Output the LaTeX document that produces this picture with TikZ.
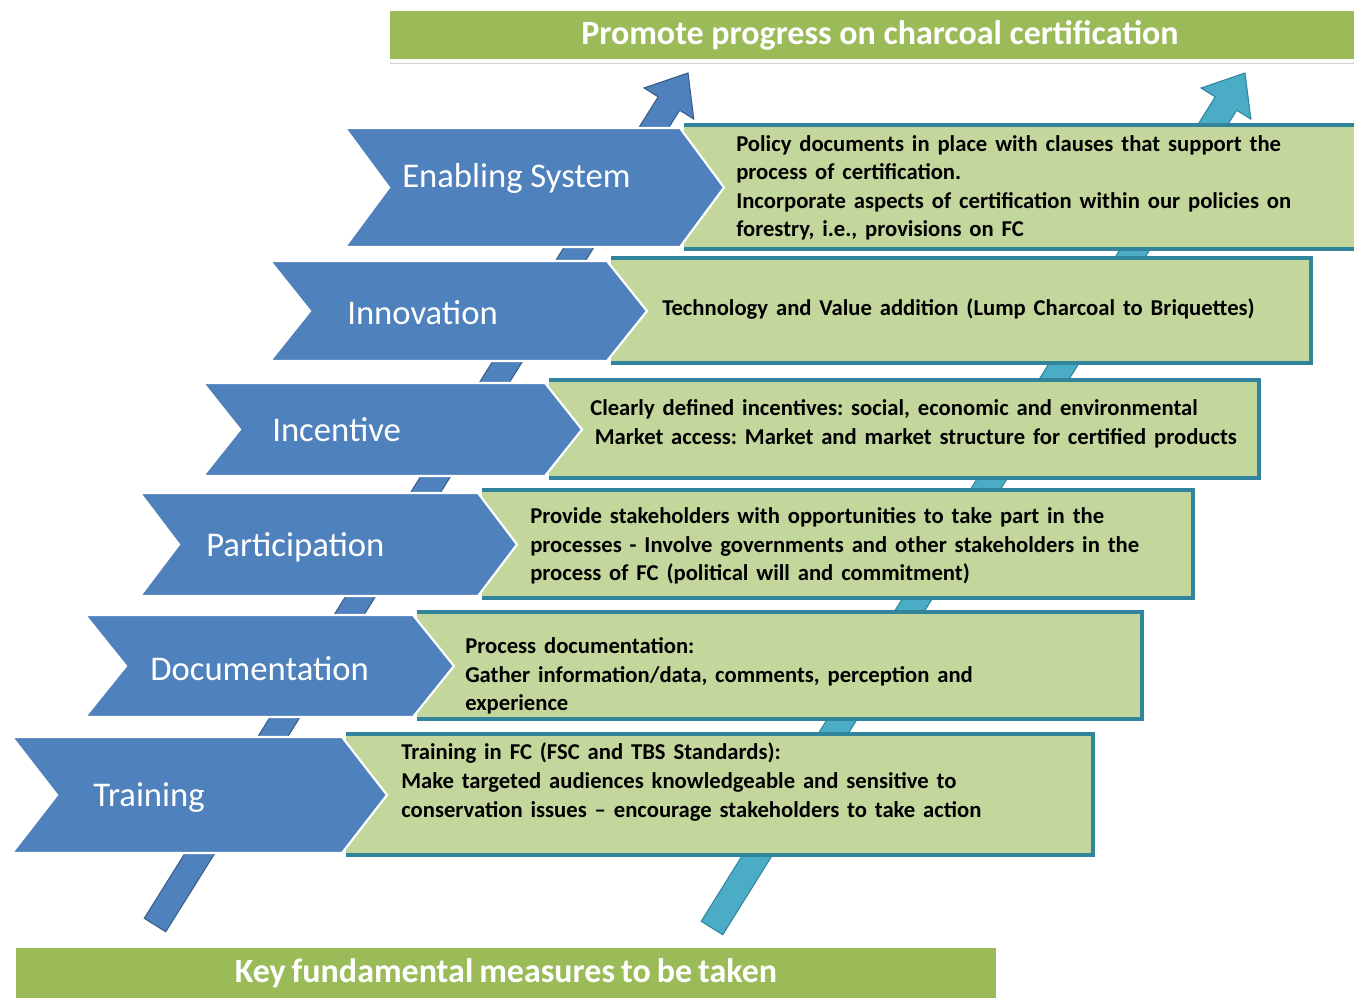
\documentclass[tikz,border=0pt]{standalone}
\usepackage{fontspec}
\setmainfont{Carlito}
\usetikzlibrary{calc,shadows}
\definecolor{chevblue}{HTML}{4F81BD}
\definecolor{chevblueD}{HTML}{385D8A}
\definecolor{boxgreen}{HTML}{C3D69B}
\definecolor{boxteal}{HTML}{31849B}
\definecolor{arrteal}{HTML}{4BACC6}
\definecolor{arrtealD}{HTML}{31859C}
\definecolor{bannergreen}{HTML}{9BBB59}

\newcommand{\boxsetup}{\fontsize{17}{21.4}\selectfont\bfseries\frenchspacing\spaceskip 5.9pt plus 1pt minus 1pt\relax}
\newcommand{\topsetup}{\fontsize{25.5}{30}\selectfont\bfseries}
\newcommand{\botsetup}{\fontsize{25.5}{30}\selectfont\bfseries\spaceskip 4.5pt\relax}

\newcommand{\stagerow}[7]{% #1 top, #2 bottom, #3 left, #4 corner, #5 depth, #6 green right, #7 id
  \pgfmathsetmacro\midy{(#1+#2)/2}
  \fill[boxgreen] (#4+4,#1-3) rectangle (#6,#2+2);
  \draw[boxteal,line width=2.6pt] (#4+4,#1-3) -- (#6,#1-3) -- (#6,#2+2) -- (#4+4,#2+2);
  \draw[chevshape] (#3,#1) -- (#4,#1) -- (#4+#5,\midy) -- (#4,#2) -- (#3,#2) -- (#3+#5,\midy) -- cycle;
  \coordinate (row#7) at (#3,\midy);
}

\newcommand{\bigarrow}[4]{% #1 base, #2 tip, #3 fill, #4 draw
  \coordinate (#1h) at ($(#2)!27pt!(#1)$);
  \filldraw[fill=#3,draw=#4,line width=0.8pt,line join=miter]
    ($(#1)!9.5pt!90:(#2)$) -- ($(#1h)!9.5pt!90:(#2)$) -- ($(#1h)!22pt!90:(#2)$)
    -- (#2) -- ($(#1h)!22pt!-90:(#2)$) -- ($(#1h)!9.5pt!-90:(#2)$)
    -- ($(#1)!9.5pt!-90:(#2)$) -- cycle;
}

\begin{document}
\begin{tikzpicture}[x=0.75pt,y=-0.75pt,
  chevshape/.style={fill=chevblue,draw=white,line width=1.6pt,line join=miter},
  chevlabel/.style={anchor=west,inner sep=0pt,text=white,font=\fontsize{26}{30}\selectfont},
  boxtext/.style={anchor=west,inner sep=0pt,align=left,text=black,font=\boxsetup},
  banner/.style={fill=bannergreen,draw=white,line width=3pt,inner sep=0pt,
    drop shadow={opacity=0.35,shadow xshift=1.5pt,shadow yshift=-2pt},
    text=white},
]
\useasboundingbox (0,0) rectangle (1354,999);
\clip (0,0) rectangle (1354,999);

% background arrows
\coordinate (ba) at (155,925);
\coordinate (bt) at (688,73);
\coordinate (ta) at (712,928);
\coordinate (tt) at (1245,73);
\bigarrow{ba}{bt}{chevblue}{chevblueD}
\bigarrow{ta}{tt}{arrteal}{arrtealD}

% rows
\stagerow{128}{247}{345}{680}{44}{1362}{1}
\stagerow{261}{361}{270}{607}{40}{1311}{2}
\stagerow{383}{476}{203}{545}{37}{1259}{3}
\stagerow{493}{596}{140}{478}{39}{1193}{4}
\stagerow{615}{717}{85}{413}{41}{1142}{5}
\stagerow{737}{853}{12}{342}{45}{1093}{6}

% chevron labels
\node[chevlabel] (l1) at (402,178) {Enabling System};
\node[chevlabel] (l2) at (347,313) {Innovation};
\node[chevlabel] (l3) at (272,430) {Incentive};
\node[chevlabel] (l4) at (206,547) {Participation};
\node[chevlabel] (l5) at (150,669) {Documentation};
\node[chevlabel] (l6) at (93,798) {Training};

% box texts
\node[boxtext] (t1) at (736,188) {Policy documents in place with clauses that support the\\process of certification.\\Incorporate aspects of certification within our policies on\\forestry, i.e., provisions on FC};
\node[boxtext] (t2) at (662,309) {Technology and Value addition (Lump Charcoal to Briquettes)};
\node[boxtext] (t3) at (590,424) {Clearly defined incentives: social, economic and environmental\\\hspace*{3.5pt}Market access: Market and market structure for certified products};
\node[boxtext] (t4) at (530,546) {Provide stakeholders with opportunities to take part in the\\processes - Involve governments and other stakeholders in the\\process of FC (political will and commitment)};
\node[boxtext] (t5) at (465,676) {Process documentation:\\Gather information/data, comments, perception and\\experience};
\node[boxtext] (t6) at (401,782) {Training in FC (FSC and TBS Standards):\\Make targeted audiences knowledgeable and sensitive to\\conservation issues – encourage stakeholders to take action};

% banners
\node[banner,minimum width=984*0.75pt,minimum height=52*0.75pt,font=\topsetup] (top) at (880,35) {Promote progress on charcoal certification};
\node[banner,minimum width=984*0.75pt,minimum height=54*0.75pt,font=\botsetup] (bottom) at (506,973) {Key fundamental measures to be taken};
\end{tikzpicture}
\end{document}
